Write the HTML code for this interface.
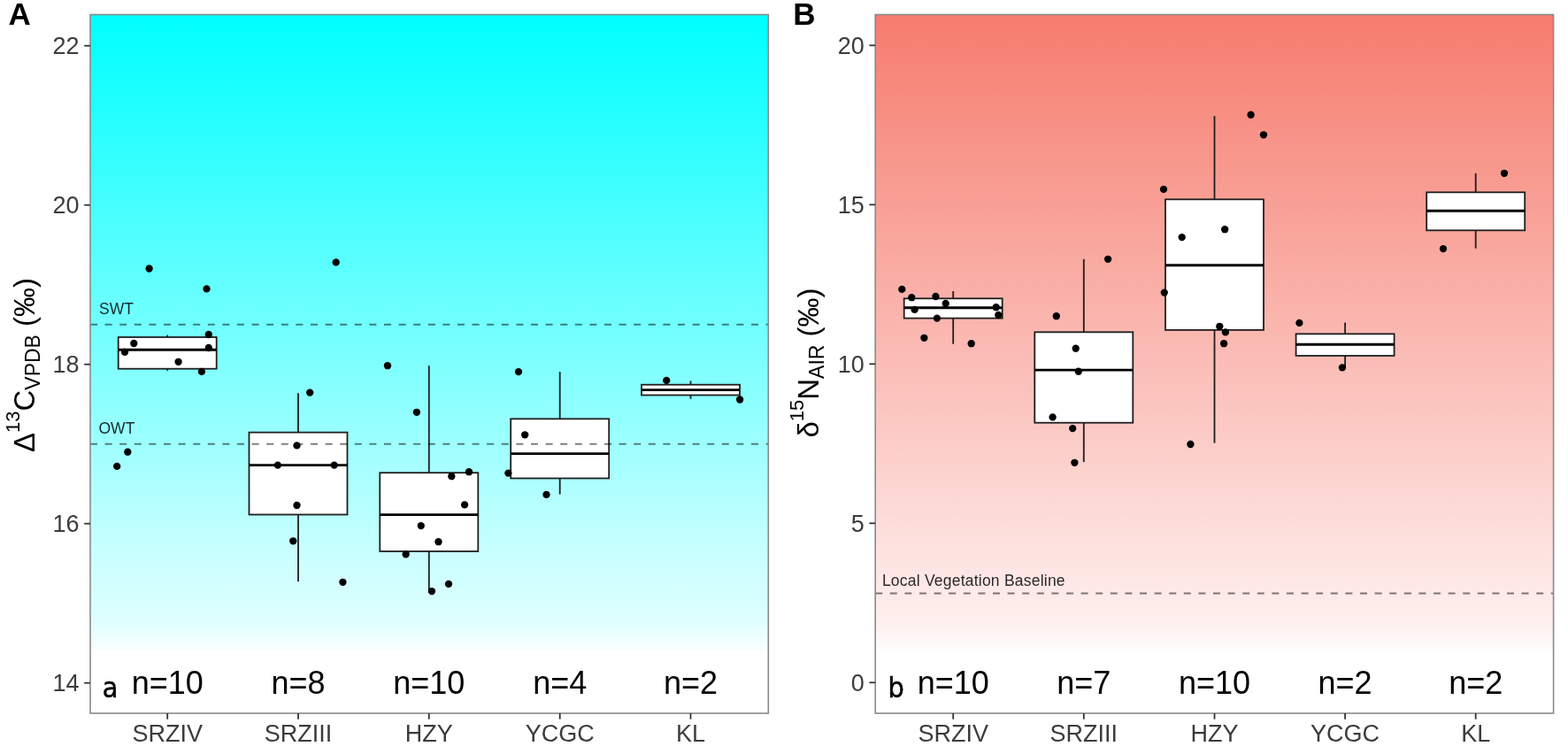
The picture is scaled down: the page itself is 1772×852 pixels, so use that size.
<!DOCTYPE html>
<html><head><meta charset="utf-8"><title>Isotope boxplots</title>
<style>
html,body{margin:0;padding:0;background:#fff;}
svg{display:block;font-family:"Liberation Sans", Arial, sans-serif;}
</style></head>
<body>
<svg width="1772" height="852" viewBox="0 0 1772 852">
<defs>
<linearGradient id="gA" x1="0" y1="0" x2="0" y2="1"><stop offset="0.0000" stop-color="#00ffff"/><stop offset="0.5491" stop-color="#8cffff"/><stop offset="0.7644" stop-color="#c7ffff"/><stop offset="0.8657" stop-color="#deffff"/><stop offset="0.8911" stop-color="#eeffff"/><stop offset="0.9113" stop-color="#fbffff"/><stop offset="0.9164" stop-color="#ffffff"/><stop offset="1.0000" stop-color="#ffffff"/></linearGradient>
<linearGradient id="gB" x1="0" y1="0" x2="0" y2="1"><stop offset="0.0000" stop-color="#f67c6e"/><stop offset="0.5491" stop-color="#fbc4be"/><stop offset="0.7644" stop-color="#fde2df"/><stop offset="0.8657" stop-color="#feeeec"/><stop offset="0.8911" stop-color="#fef6f6"/><stop offset="0.9113" stop-color="#fffdfd"/><stop offset="0.9164" stop-color="#ffffff"/><stop offset="1.0000" stop-color="#ffffff"/></linearGradient>
</defs>
<rect width="1772" height="852" fill="#fff"/>
<text x="9.5" y="27.7" font-size="35" font-weight="bold" fill="#000">A</text>
<text x="896.3" y="27.7" font-size="35" font-weight="bold" fill="#000">B</text>
<rect x="102" y="16.5" width="766.3" height="789.5" fill="url(#gA)"/>
<line x1="189.2" y1="378.6" x2="189.2" y2="381" stroke="#1e1e1e" stroke-width="1.8"/>
<line x1="189.2" y1="416.7" x2="189.2" y2="418.9" stroke="#1e1e1e" stroke-width="1.8"/>
<rect x="133.7" y="381" width="111.0" height="35.7" fill="#ffffff" stroke="#1e1e1e" stroke-width="1.8"/>
<line x1="133.7" y1="395.3" x2="244.7" y2="395.3" stroke="#000" stroke-width="2.9"/>
<line x1="337.0" y1="444.3" x2="337.0" y2="488.6" stroke="#1e1e1e" stroke-width="1.8"/>
<line x1="337.0" y1="581.5" x2="337.0" y2="657.2" stroke="#1e1e1e" stroke-width="1.8"/>
<rect x="281.5" y="488.6" width="111.0" height="92.9" fill="#ffffff" stroke="#1e1e1e" stroke-width="1.8"/>
<line x1="281.5" y1="525.6" x2="392.5" y2="525.6" stroke="#000" stroke-width="2.9"/>
<line x1="484.8" y1="413.2" x2="484.8" y2="534.2" stroke="#1e1e1e" stroke-width="1.8"/>
<line x1="484.8" y1="623" x2="484.8" y2="669.7" stroke="#1e1e1e" stroke-width="1.8"/>
<rect x="429.3" y="534.2" width="111.0" height="88.8" fill="#ffffff" stroke="#1e1e1e" stroke-width="1.8"/>
<line x1="429.3" y1="581.6" x2="540.3" y2="581.6" stroke="#000" stroke-width="2.9"/>
<line x1="632.7" y1="420.1" x2="632.7" y2="473.3" stroke="#1e1e1e" stroke-width="1.8"/>
<line x1="632.7" y1="540.5" x2="632.7" y2="558.5" stroke="#1e1e1e" stroke-width="1.8"/>
<rect x="577.2" y="473.3" width="111.0" height="67.2" fill="#ffffff" stroke="#1e1e1e" stroke-width="1.8"/>
<line x1="577.2" y1="512.6" x2="688.2" y2="512.6" stroke="#000" stroke-width="2.9"/>
<line x1="780.5" y1="430.5" x2="780.5" y2="434.7" stroke="#1e1e1e" stroke-width="1.8"/>
<line x1="780.5" y1="446.5" x2="780.5" y2="450.7" stroke="#1e1e1e" stroke-width="1.8"/>
<rect x="725.0" y="434.7" width="111.0" height="11.8" fill="#ffffff" stroke="#1e1e1e" stroke-width="1.8"/>
<line x1="725.0" y1="440.6" x2="836.0" y2="440.6" stroke="#000" stroke-width="2.9"/>
<line x1="102" y1="366.70000000000005" x2="868.3" y2="366.70000000000005" stroke="#000" stroke-opacity="0.5" stroke-width="2" stroke-dasharray="8 8.6"/>
<line x1="102" y1="501.70000000000005" x2="868.3" y2="501.70000000000005" stroke="#000" stroke-opacity="0.5" stroke-width="2" stroke-dasharray="8 8.6"/>
<text x="112" y="354.5" font-size="17.5" letter-spacing="0" fill="#000" fill-opacity="0.84">SWT</text>
<text x="111.5" y="489.8" font-size="17.5" letter-spacing="0" fill="#000" fill-opacity="0.84">OWT</text>
<circle cx="168.6" cy="303.5" r="4.15" fill="#000"/>
<circle cx="233.5" cy="326.4" r="4.15" fill="#000"/>
<circle cx="235.8" cy="378" r="4.15" fill="#000"/>
<circle cx="151.3" cy="388" r="4.15" fill="#000"/>
<circle cx="141" cy="397.9" r="4.15" fill="#000"/>
<circle cx="235.8" cy="393" r="4.15" fill="#000"/>
<circle cx="201.6" cy="408.8" r="4.15" fill="#000"/>
<circle cx="227.9" cy="419.9" r="4.15" fill="#000"/>
<circle cx="144.3" cy="510.7" r="4.15" fill="#000"/>
<circle cx="132.2" cy="526.9" r="4.15" fill="#000"/>
<circle cx="379.7" cy="296.4" r="4.15" fill="#000"/>
<circle cx="350.2" cy="443.6" r="4.15" fill="#000"/>
<circle cx="335.5" cy="503.4" r="4.15" fill="#000"/>
<circle cx="313.9" cy="525.6" r="4.15" fill="#000"/>
<circle cx="377.7" cy="525.6" r="4.15" fill="#000"/>
<circle cx="335.5" cy="571" r="4.15" fill="#000"/>
<circle cx="331.3" cy="611.3" r="4.15" fill="#000"/>
<circle cx="387.4" cy="657.8" r="4.15" fill="#000"/>
<circle cx="438" cy="413.2" r="4.15" fill="#000"/>
<circle cx="470.9" cy="465.8" r="4.15" fill="#000"/>
<circle cx="510.3" cy="538.2" r="4.15" fill="#000"/>
<circle cx="530" cy="533.2" r="4.15" fill="#000"/>
<circle cx="525.1" cy="570.4" r="4.15" fill="#000"/>
<circle cx="475.8" cy="594.1" r="4.15" fill="#000"/>
<circle cx="495.5" cy="612.2" r="4.15" fill="#000"/>
<circle cx="458.7" cy="626.3" r="4.15" fill="#000"/>
<circle cx="507" cy="659.9" r="4.15" fill="#000"/>
<circle cx="488" cy="668.1" r="4.15" fill="#000"/>
<circle cx="586" cy="420.1" r="4.15" fill="#000"/>
<circle cx="593.2" cy="491.3" r="4.15" fill="#000"/>
<circle cx="574.4" cy="534.6" r="4.15" fill="#000"/>
<circle cx="617.5" cy="558.9" r="4.15" fill="#000"/>
<circle cx="753.2" cy="429.9" r="4.15" fill="#000"/>
<circle cx="836.1" cy="451.5" r="4.15" fill="#000"/>
<text x="189.2" y="783.7" font-size="36" text-anchor="middle" fill="#000">n=10</text>
<text x="337.0" y="783.7" font-size="36" text-anchor="middle" fill="#000">n=8</text>
<text x="484.8" y="783.7" font-size="36" text-anchor="middle" fill="#000">n=10</text>
<text x="632.7" y="783.7" font-size="36" text-anchor="middle" fill="#000">n=4</text>
<text x="780.5" y="783.7" font-size="36" text-anchor="middle" fill="#000">n=2</text>
<text x="115.8" y="788.2" font-size="32" font-family="DejaVu Sans Condensed, DejaVu Sans, sans-serif" fill="#000" stroke="#000" stroke-width="0.5">a</text>
<rect x="102" y="16.5" width="766.3" height="789.5" fill="none" stroke="#8a8a8a" stroke-width="1.6"/>
<line x1="95.2" y1="771.7" x2="102" y2="771.7" stroke="#333333" stroke-width="1.8"/>
<text x="89.5" y="781.4" font-size="27" text-anchor="end" fill="#3c3c3c">14</text>
<line x1="95.2" y1="591.7" x2="102" y2="591.7" stroke="#333333" stroke-width="1.8"/>
<text x="89.5" y="601.4" font-size="27" text-anchor="end" fill="#3c3c3c">16</text>
<line x1="95.2" y1="411.70000000000005" x2="102" y2="411.70000000000005" stroke="#333333" stroke-width="1.8"/>
<text x="89.5" y="421.4" font-size="27" text-anchor="end" fill="#3c3c3c">18</text>
<line x1="95.2" y1="231.70000000000005" x2="102" y2="231.70000000000005" stroke="#333333" stroke-width="1.8"/>
<text x="89.5" y="241.4" font-size="27" text-anchor="end" fill="#3c3c3c">20</text>
<line x1="95.2" y1="51.700000000000045" x2="102" y2="51.700000000000045" stroke="#333333" stroke-width="1.8"/>
<text x="89.5" y="61.4" font-size="27" text-anchor="end" fill="#3c3c3c">22</text>
<line x1="189.2" y1="806" x2="189.2" y2="812.7" stroke="#333333" stroke-width="1.8"/>
<text x="189.2" y="838" font-size="27" text-anchor="middle" fill="#3c3c3c">SRZIV</text>
<line x1="337.0" y1="806" x2="337.0" y2="812.7" stroke="#333333" stroke-width="1.8"/>
<text x="337.0" y="838" font-size="27" text-anchor="middle" fill="#3c3c3c">SRZIII</text>
<line x1="484.8" y1="806" x2="484.8" y2="812.7" stroke="#333333" stroke-width="1.8"/>
<text x="484.8" y="838" font-size="27" text-anchor="middle" fill="#3c3c3c">HZY</text>
<line x1="632.7" y1="806" x2="632.7" y2="812.7" stroke="#333333" stroke-width="1.8"/>
<text x="632.7" y="838" font-size="27" text-anchor="middle" fill="#3c3c3c">YCGC</text>
<line x1="780.5" y1="806" x2="780.5" y2="812.7" stroke="#333333" stroke-width="1.8"/>
<text x="780.5" y="838" font-size="27" text-anchor="middle" fill="#3c3c3c">KL</text>
<text transform="translate(39.3,412.5) rotate(-90)" text-anchor="middle" font-size="33" fill="#000">Δ<tspan font-size="22" dy="-17">13</tspan><tspan dy="17">C</tspan><tspan font-size="23" dy="5.7">VPDB</tspan><tspan dy="-5.7"> (‰)</tspan></text>
<rect x="989.2" y="16.5" width="766.3999999999999" height="789.5" fill="url(#gB)"/>
<line x1="1077.2" y1="329" x2="1077.2" y2="337.3" stroke="#1e1e1e" stroke-width="1.8"/>
<line x1="1077.2" y1="359.6" x2="1077.2" y2="388.7" stroke="#1e1e1e" stroke-width="1.8"/>
<rect x="1021.7" y="337.3" width="111.0" height="22.3" fill="#ffffff" stroke="#1e1e1e" stroke-width="1.8"/>
<line x1="1021.7" y1="347.7" x2="1132.7" y2="347.7" stroke="#000" stroke-width="2.9"/>
<line x1="1224.8" y1="292.8" x2="1224.8" y2="375.3" stroke="#1e1e1e" stroke-width="1.8"/>
<line x1="1224.8" y1="477.7" x2="1224.8" y2="522.1" stroke="#1e1e1e" stroke-width="1.8"/>
<rect x="1169.3" y="375.3" width="111.0" height="102.4" fill="#ffffff" stroke="#1e1e1e" stroke-width="1.8"/>
<line x1="1169.3" y1="418.1" x2="1280.3" y2="418.1" stroke="#000" stroke-width="2.9"/>
<line x1="1372.5" y1="131.1" x2="1372.5" y2="225.3" stroke="#1e1e1e" stroke-width="1.8"/>
<line x1="1372.5" y1="372.9" x2="1372.5" y2="500.6" stroke="#1e1e1e" stroke-width="1.8"/>
<rect x="1317.0" y="225.3" width="111.0" height="147.6" fill="#ffffff" stroke="#1e1e1e" stroke-width="1.8"/>
<line x1="1317.0" y1="299.8" x2="1428.0" y2="299.8" stroke="#000" stroke-width="2.9"/>
<line x1="1520.1" y1="364.6" x2="1520.1" y2="377.3" stroke="#1e1e1e" stroke-width="1.8"/>
<line x1="1520.1" y1="402" x2="1520.1" y2="415.1" stroke="#1e1e1e" stroke-width="1.8"/>
<rect x="1464.6" y="377.3" width="111.0" height="24.7" fill="#ffffff" stroke="#1e1e1e" stroke-width="1.8"/>
<line x1="1464.6" y1="389.3" x2="1575.6" y2="389.3" stroke="#000" stroke-width="2.9"/>
<line x1="1667.7" y1="195.8" x2="1667.7" y2="217.3" stroke="#1e1e1e" stroke-width="1.8"/>
<line x1="1667.7" y1="260.3" x2="1667.7" y2="280.7" stroke="#1e1e1e" stroke-width="1.8"/>
<rect x="1612.2" y="217.3" width="111.0" height="43.0" fill="#ffffff" stroke="#1e1e1e" stroke-width="1.8"/>
<line x1="1612.2" y1="238.2" x2="1723.2" y2="238.2" stroke="#000" stroke-width="2.9"/>
<line x1="989.2" y1="670.5" x2="1755.6" y2="670.5" stroke="#000" stroke-opacity="0.5" stroke-width="2" stroke-dasharray="8 8.6"/>
<text x="996.9" y="662.1" font-size="17.5" letter-spacing="0.22" fill="#000" fill-opacity="0.84">Local Vegetation Baseline</text>
<circle cx="1019.3" cy="326.9" r="4.15" fill="#000"/>
<circle cx="1030.3" cy="336.2" r="4.15" fill="#000"/>
<circle cx="1057.4" cy="335" r="4.15" fill="#000"/>
<circle cx="1068.7" cy="343" r="4.15" fill="#000"/>
<circle cx="1033.6" cy="349.9" r="4.15" fill="#000"/>
<circle cx="1125.7" cy="347.2" r="4.15" fill="#000"/>
<circle cx="1128.3" cy="356" r="4.15" fill="#000"/>
<circle cx="1058.9" cy="359.6" r="4.15" fill="#000"/>
<circle cx="1044.4" cy="381.8" r="4.15" fill="#000"/>
<circle cx="1097.7" cy="388.2" r="4.15" fill="#000"/>
<circle cx="1252.1" cy="292.8" r="4.15" fill="#000"/>
<circle cx="1193.8" cy="357.2" r="4.15" fill="#000"/>
<circle cx="1215.7" cy="393.7" r="4.15" fill="#000"/>
<circle cx="1218.8" cy="419.7" r="4.15" fill="#000"/>
<circle cx="1189.6" cy="471.4" r="4.15" fill="#000"/>
<circle cx="1212.2" cy="484.1" r="4.15" fill="#000"/>
<circle cx="1214.4" cy="522.8" r="4.15" fill="#000"/>
<circle cx="1413.6" cy="129.7" r="4.15" fill="#000"/>
<circle cx="1428" cy="152.3" r="4.15" fill="#000"/>
<circle cx="1315" cy="213.9" r="4.15" fill="#000"/>
<circle cx="1384.2" cy="259.2" r="4.15" fill="#000"/>
<circle cx="1335.7" cy="268.1" r="4.15" fill="#000"/>
<circle cx="1315.8" cy="330.6" r="4.15" fill="#000"/>
<circle cx="1378.3" cy="368.8" r="4.15" fill="#000"/>
<circle cx="1384.9" cy="375.4" r="4.15" fill="#000"/>
<circle cx="1383.1" cy="388.2" r="4.15" fill="#000"/>
<circle cx="1345.4" cy="502" r="4.15" fill="#000"/>
<circle cx="1468.4" cy="364.9" r="4.15" fill="#000"/>
<circle cx="1516.9" cy="415.4" r="4.15" fill="#000"/>
<circle cx="1700" cy="195.8" r="4.15" fill="#000"/>
<circle cx="1631" cy="281.1" r="4.15" fill="#000"/>
<text x="1077.2" y="783.7" font-size="36" text-anchor="middle" fill="#000">n=10</text>
<text x="1224.8" y="783.7" font-size="36" text-anchor="middle" fill="#000">n=7</text>
<text x="1372.5" y="783.7" font-size="36" text-anchor="middle" fill="#000">n=10</text>
<text x="1520.1" y="783.7" font-size="36" text-anchor="middle" fill="#000">n=2</text>
<text x="1667.7" y="783.7" font-size="36" text-anchor="middle" fill="#000">n=2</text>
<text x="1003.4" y="788.2" font-size="32" font-family="DejaVu Sans Condensed, DejaVu Sans, sans-serif" fill="#000" stroke="#000" stroke-width="0.5">b</text>
<rect x="989.2" y="16.5" width="766.3999999999999" height="789.5" fill="none" stroke="#8a8a8a" stroke-width="1.6"/>
<line x1="982.4000000000001" y1="771.3" x2="989.2" y2="771.3" stroke="#333333" stroke-width="1.8"/>
<text x="976.7" y="781.0" font-size="27" text-anchor="end" fill="#3c3c3c">0</text>
<line x1="982.4000000000001" y1="591.3" x2="989.2" y2="591.3" stroke="#333333" stroke-width="1.8"/>
<text x="976.7" y="601.0" font-size="27" text-anchor="end" fill="#3c3c3c">5</text>
<line x1="982.4000000000001" y1="411.29999999999995" x2="989.2" y2="411.29999999999995" stroke="#333333" stroke-width="1.8"/>
<text x="976.7" y="421.0" font-size="27" text-anchor="end" fill="#3c3c3c">10</text>
<line x1="982.4000000000001" y1="231.29999999999995" x2="989.2" y2="231.29999999999995" stroke="#333333" stroke-width="1.8"/>
<text x="976.7" y="241.0" font-size="27" text-anchor="end" fill="#3c3c3c">15</text>
<line x1="982.4000000000001" y1="51.299999999999955" x2="989.2" y2="51.299999999999955" stroke="#333333" stroke-width="1.8"/>
<text x="976.7" y="61.0" font-size="27" text-anchor="end" fill="#3c3c3c">20</text>
<line x1="1077.2" y1="806" x2="1077.2" y2="812.7" stroke="#333333" stroke-width="1.8"/>
<text x="1077.2" y="838" font-size="27" text-anchor="middle" fill="#3c3c3c">SRZIV</text>
<line x1="1224.8" y1="806" x2="1224.8" y2="812.7" stroke="#333333" stroke-width="1.8"/>
<text x="1224.8" y="838" font-size="27" text-anchor="middle" fill="#3c3c3c">SRZIII</text>
<line x1="1372.5" y1="806" x2="1372.5" y2="812.7" stroke="#333333" stroke-width="1.8"/>
<text x="1372.5" y="838" font-size="27" text-anchor="middle" fill="#3c3c3c">HZY</text>
<line x1="1520.1" y1="806" x2="1520.1" y2="812.7" stroke="#333333" stroke-width="1.8"/>
<text x="1520.1" y="838" font-size="27" text-anchor="middle" fill="#3c3c3c">YCGC</text>
<line x1="1667.7" y1="806" x2="1667.7" y2="812.7" stroke="#333333" stroke-width="1.8"/>
<text x="1667.7" y="838" font-size="27" text-anchor="middle" fill="#3c3c3c">KL</text>
<text transform="translate(925.3,410) rotate(-90)" text-anchor="middle" font-size="33" fill="#000">δ<tspan font-size="22" dy="-17">15</tspan><tspan dy="17">N</tspan><tspan font-size="23" dy="5.7">AIR</tspan><tspan dy="-5.7"> (‰)</tspan></text>
</svg>
</body></html>
